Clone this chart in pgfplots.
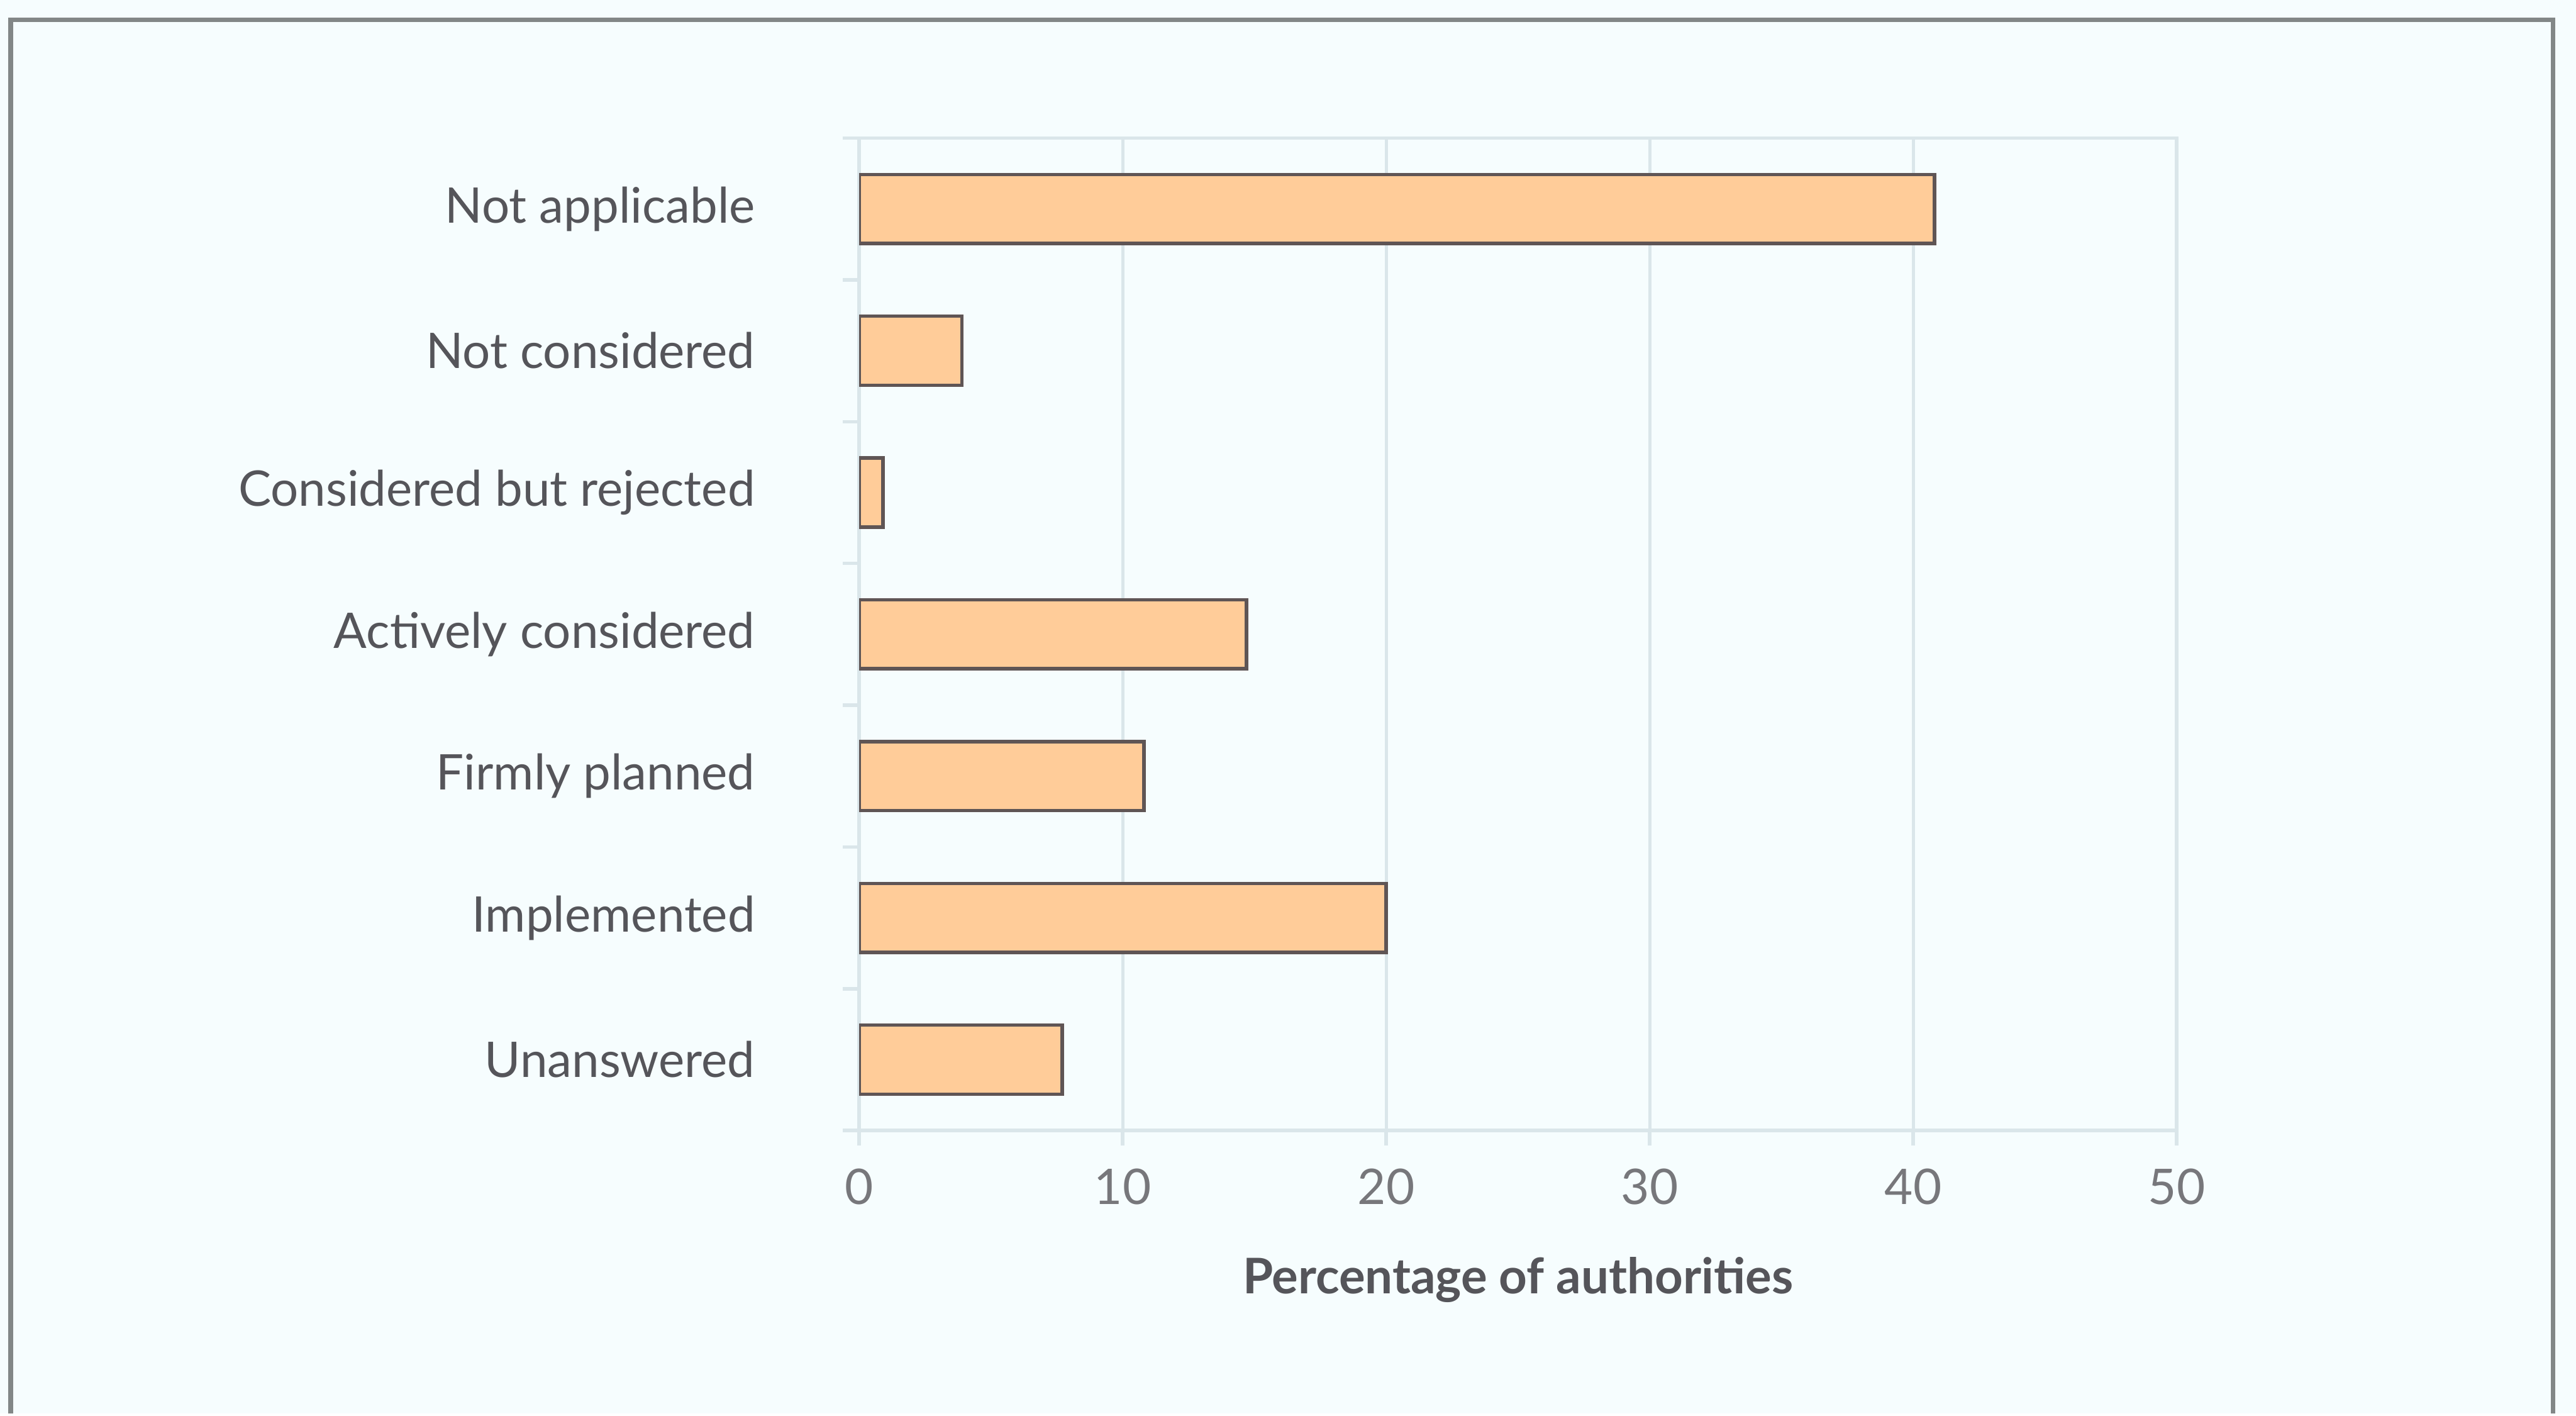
\documentclass[border=0pt]{standalone}
\usepackage{pgfplots}
\pgfplotsset{compat=1.18}
\usepackage{fontspec}
\setmainfont{Lato}
\definecolor{bg}{RGB}{246,253,254}
\definecolor{barfill}{RGB}{255,204,153}
\definecolor{baredge}{RGB}{95,85,85}
\definecolor{gridc}{RGB}{218,230,234}
\definecolor{txt}{RGB}{85,85,90}
\definecolor{frame}{RGB}{130,135,135}
\begin{document}
\begin{tikzpicture}
\fill[bg] (0,0) rectangle (15.68,8.60);
\draw[line width=0.8pt, frame] (0.065,0) -- (0.065,8.48) -- (15.54,8.48) -- (15.54,0);
\begin{axis}[
  at={(5.23cm,1.72cm)}, anchor=south west,
  width=8.02cm, height=6.04cm, scale only axis,
  xbar, bar width=0.42cm,
  xmin=0, xmax=50, ymin=-0.5, ymax=6.5,
  xtick={0,10,...,50},
  ytick={0,...,6},
  yticklabels={Unanswered, Implemented, Firmly planned, Actively considered, Considered but rejected, Not considered, Not applicable},
  minor ytick={-0.5,0.5,...,6.5},
  xtick pos=bottom, ytick pos=left,
  tick align=outside,
  major tick length=0.09cm,
  minor tick length=0.1cm,
  major y tick style={draw=none},
  minor y tick style={draw=gridc, line width=0.6pt},
  major x tick style={draw=gridc, line width=0.6pt},
  xmajorgrids,
  grid style={draw=gridc, line width=0.5pt},
  axis line style={draw=gridc, line width=0.6pt},
  /pgf/number format/assume math mode=true,
  xticklabel style={font=\fontsize{8.5}{10}\selectfont, text=txt!80, anchor=north, yshift=-0.02cm},
  yticklabel style={font=\fontsize{8.5}{10}\selectfont, text=txt, anchor=east, xshift=-0.42cm},
  xlabel={\bfseries Percentage of authorities},
  xlabel style={font=\fontsize{8.5}{10}\selectfont, text=txt, at={(axis description cs:0.5,0)}, anchor=center, yshift=-0.91cm},
]
\addplot[fill=barfill, draw=baredge, line width=0.6pt] coordinates {
  (7.7,0) (20.0,1) (10.8,2) (14.7,3) (0.9,4) (3.9,5) (40.8,6)
};
\end{axis}
\end{tikzpicture}
\end{document}
